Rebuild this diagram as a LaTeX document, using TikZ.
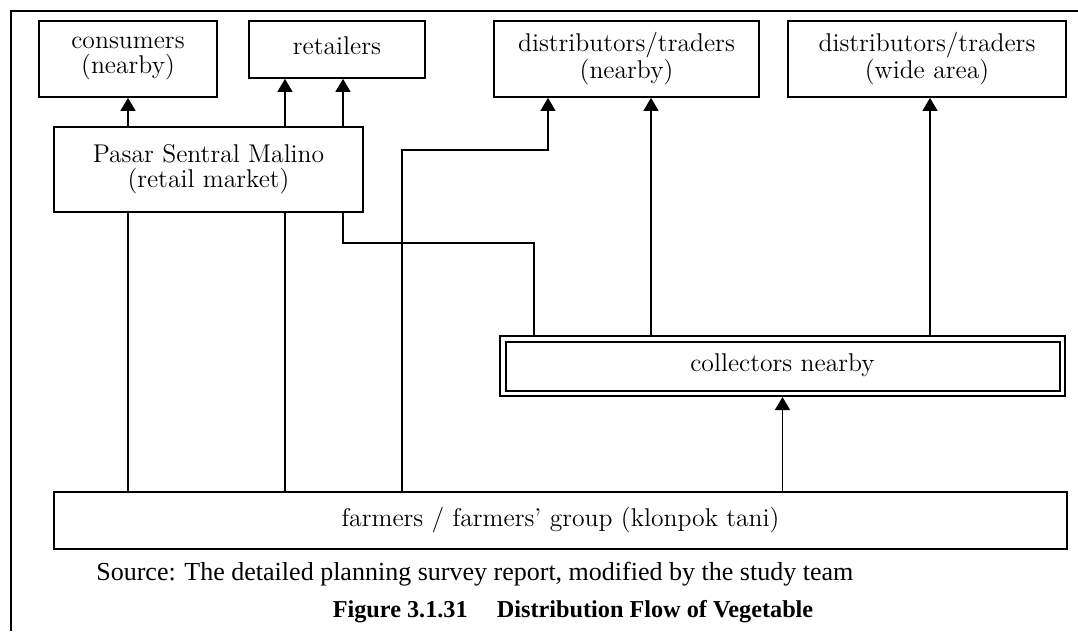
\documentclass[tikz,border=0pt]{standalone}
\usepackage{fontspec}
\usepackage{tikz}
\usetikzlibrary{arrows.meta}
\newfontfamily\srcfont{Liberation Serif}
\newcommand{\boxfont}{\fontsize{14.6}{14.2}\selectfont}

\begin{document}
\begin{tikzpicture}[x=0.2mm, y=-0.2mm, >={Triangle[length=2.6mm, width=3mm]},
      box/.style={draw, line width=0.34mm, align=center, inner sep=0pt, font=\boxfont,
        execute at begin node=\strut, execute at end node=\strut},
      hub/.style={box, line width=0.4mm, double, double distance=0.7mm, outer sep=0.75mm},
      flow/.style={line width=0.26mm},
      note/.style={inner sep=0pt, font=\fontsize{14.8}{17}\srcfont}]
    \useasboundingbox (0,0) rectangle (1078,631);
    \draw[line width=0.4mm] (11,631) -- (11,11) -- (1078,11);
    % buyers along the top
    \node[box, minimum width=35.6mm, minimum height=15.2mm] (cons) at (128,59)   {consumers\\(nearby)};
    \node[box, minimum width=35.2mm, minimum height=11.4mm] (ret)  at (337,49.5) {retailers};
    \node[box, minimum width=53mm,   minimum height=15.2mm] (near) at (626.5,59) {distributors/traders\\(nearby)};
    \node[box, minimum width=55.6mm, minimum height=15.2mm] (wide) at (927,59)   {distributors/traders\\(wide area)};
    % market, collectors and producers
    \node[box, minimum width=61.8mm, minimum height=17mm] (pasar) at (208.5,169.5) {Pasar Sentral Malino\\(retail market)};
    \node[hub, minimum width=111.9mm, minimum height=10.9mm] (coll) at (782.5,366) {collectors nearby};
    \node[box, minimum width=202.6mm, minimum height=11.4mm] (farm) at (560.5,520.5) {farmers / farmers' group (klonpok tani)};
    % turning points of the routed lines
    \coordinate (lane1) at (285,0);
    \coordinate (lane2) at (651,0);
    \coordinate (lane3) at (930,0);
    \coordinate (jog1) at (343,243);
    \coordinate (jog2) at (534,243);
    \coordinate (jog3) at (402,150);
    \coordinate (jog4) at (548,150);
    \draw[flow, ->] (pasar.north -| cons) -- (cons.south);
    \draw[flow, ->] (pasar.north -| lane1) -- (ret.south -| lane1);
    \draw[flow, ->] (pasar.north -| jog1) -- (ret.south -| jog1);
    \draw[flow] (farm.north -| cons) -- (pasar.south -| cons);
    \draw[flow] (farm.north -| lane1) -- (pasar.south -| lane1);
    \draw[flow] (pasar.south -| jog1) -- (jog1) -- (jog2) -- (coll.north -| jog2);
    \draw[flow, ->] (farm.north -| jog3) -- (jog3) -- (jog4) -- (near.south -| jog4);
    \draw[flow, ->] (coll.north -| lane2) -- (near.south -| lane2);
    \draw[flow, ->] (coll.north -| lane3) -- (wide.south -| lane3);
    \draw[flow, ->] (farm.north -| coll.south) -- (coll.south);
    % source line and caption
    \node[note, anchor=base west] (src) at (96,580)
      {Source: The detailed planning survey report, modified by the study team};
    \node[note, anchor=base, font=\fontsize{13.8}{16}\srcfont\bfseries] (cap) at (573,617)
      {Figure 3.1.31\hspace{1.2em}Distribution Flow of Vegetable};
  \end{tikzpicture}
\end{document}
